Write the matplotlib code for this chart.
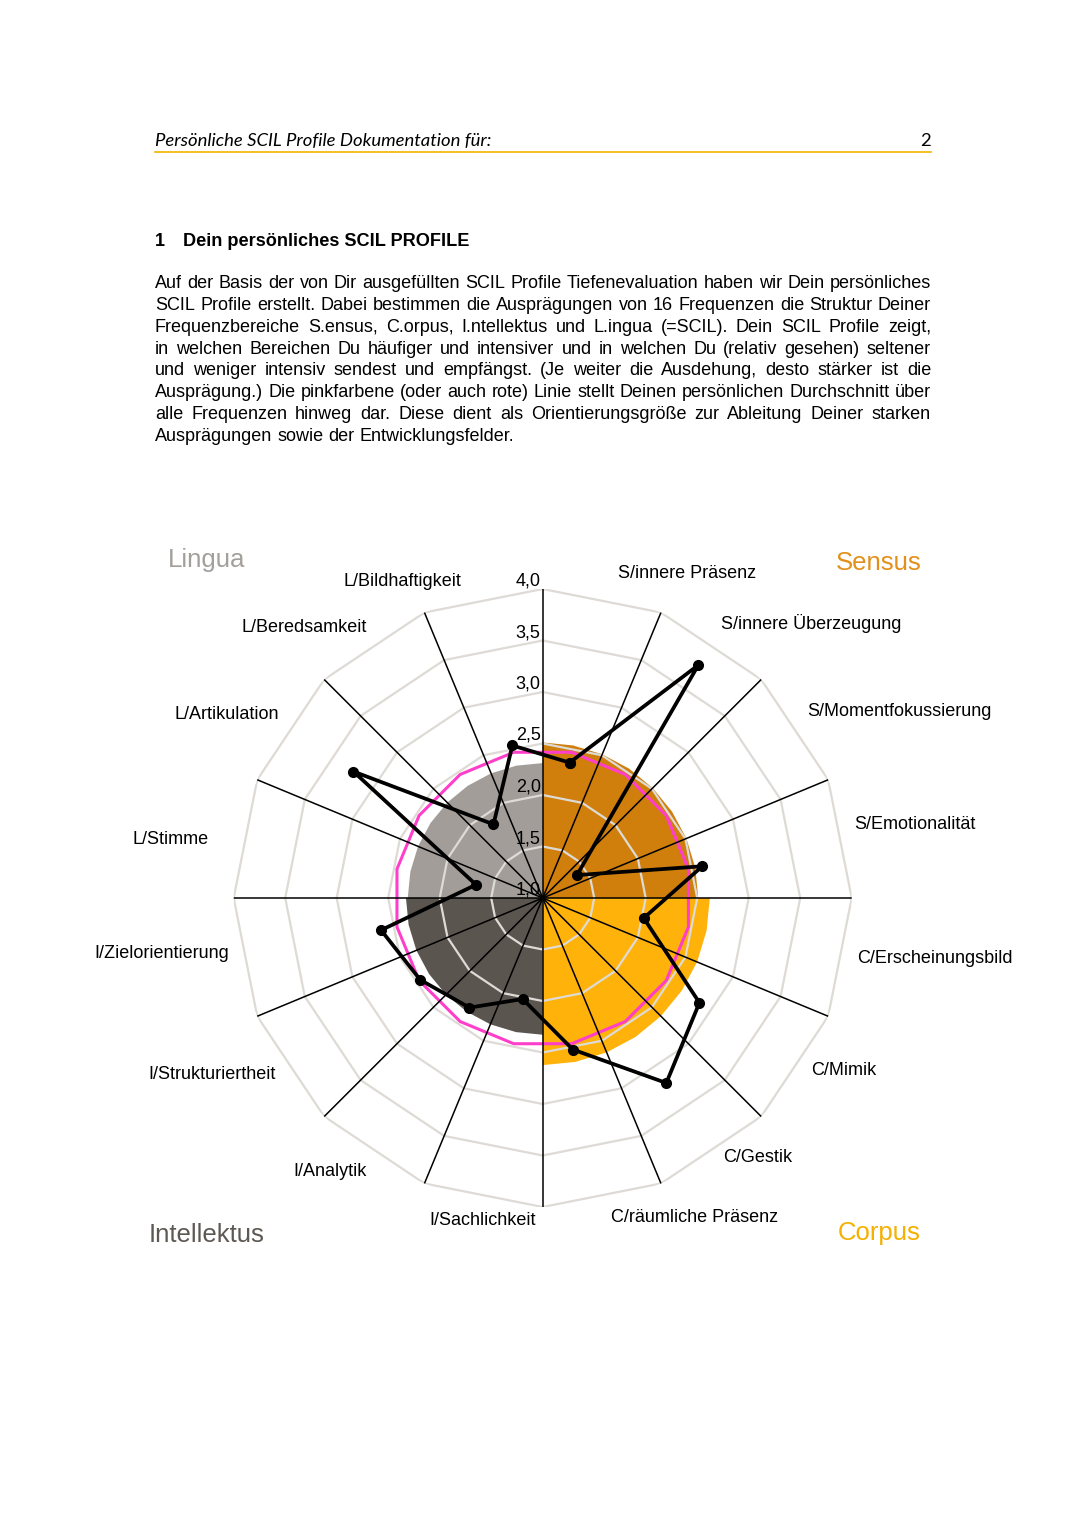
import matplotlib
matplotlib.use("Agg")
import matplotlib.pyplot as plt
import numpy as np

plt.rcParams['font.family'] = ['Liberation Sans', 'DejaVu Sans']

# Frequenzen im Uhrzeigersinn, beginnend rechts neben der 12-Uhr-Achse
labels = ['S/innere Präsenz', 'S/innere Überzeugung', 'S/Momentfokussierung', 'S/Emotionalität',
          'C/Erscheinungsbild', 'C/Mimik', 'C/Gestik', 'C/räumliche Präsenz',
          'I/Sachlichkeit', 'I/Analytik', 'I/Strukturiertheit', 'I/Zielorientierung',
          'L/Stimme', 'L/Artikulation', 'L/Beredsamkeit', 'L/Bildhaftigkeit']
values = [2.34, 3.72, 1.40, 2.58,
          2.00, 2.83, 3.16, 2.50,
          2.00, 2.28, 2.43, 2.60,
          1.66, 3.21, 1.86, 2.51]
groups = ['Sensus', 'Corpus', 'Intellektus', 'Lingua']
ring_values = [1.5, 2.0, 2.5, 3.0, 3.5, 4.0]
tick_values = [1.0, 1.5, 2.0, 2.5, 3.0, 3.5, 4.0]
tick_labels = ['1,0', '1,5', '2,0', '2,5', '3,0', '3,5', '4,0']

header_text = 'Persönliche SCIL Profile Dokumentation für:'
page_number = '2'
section_number = '1'
section_title = 'Dein persönliches SCIL PROFILE'
paragraph = [
    'Auf der Basis der von Dir ausgefüllten SCIL Profile Tiefenevaluation haben wir Dein persönliches',
    'SCIL Profile erstellt. Dabei bestimmen die Ausprägungen von 16 Frequenzen die Struktur Deiner',
    'Frequenzbereiche S.ensus, C.orpus, I.ntellektus und L.ingua (=SCIL). Dein SCIL Profile zeigt,',
    'in welchen Bereichen Du häufiger und intensiver und in welchen Du (relativ gesehen) seltener',
    'und weniger intensiv sendest und empfängst. (Je weiter die Ausdehung, desto stärker ist die',
    'Ausprägung.) Die pinkfarbene (oder auch rote) Linie stellt Deinen persönlichen Durchschnitt über',
    'alle Frequenzen hinweg dar. Diese dient als Orientierungsgröße zur Ableitung Deiner starken',
    'Ausprägungen sowie der Entwicklungsfelder.',
]

fill_colors = {'Sensus': '#d07f0c', 'Corpus': '#ffb20a', 'Intellektus': '#5b5550', 'Lingua': '#a29d99'}
title_colors = {'Sensus': '#e3901a', 'Corpus': '#f5b000', 'Intellektus': '#5e5853', 'Lingua': '#a39f9b'}
grid_color = '#dedad5'
pink = '#ff3fca'
# kleine Verschiebungen der Achsenbeschriftungen (Pixel, x nach rechts, y nach oben)
label_nudge = [(12, 5), (-3, 4), (-6, 6), (-8, 10),
               (-5, 3), (-2, 8), (0, 11), (5, 0),
               (3, -3), (5, -3), (4, 4), (6, 8),
               (-15, -5), (7, 3), (5, 0), (-18, -3)]

W, H = 1086, 1536
fig = plt.figure(figsize=(W / 100, H / 100), dpi=100)

# Seitenebene in Pixelkoordinaten
page = fig.add_axes([0, 0, 1, 1])
page.set_xlim(0, W)
page.set_ylim(H, 0)
page.axis('off')

left, right = 155, 931
page.text(left, 146, header_text, fontsize=13.3, style='italic', family=['Lato', 'DejaVu Sans'],
          ha='left', va='baseline')
page.text(right, 146, page_number, fontsize=13.3, family=['Lato', 'DejaVu Sans'], ha='right', va='baseline')
page.plot([left, right], [152, 152], color='#f5b400', lw=1.2)

page.text(left, 246, section_number, fontsize=13, weight='bold', ha='left', va='baseline')
page.text(183, 246, section_title, fontsize=13.1, weight='bold', ha='left', va='baseline')

# Blocksatz
renderer = fig.canvas.get_renderer()
probe1 = page.text(0, 0, 'x x', fontsize=13)
probe2 = page.text(0, 0, 'xx', fontsize=13)
space_w = probe1.get_window_extent(renderer).width - probe2.get_window_extent(renderer).width
probe1.remove()
probe2.remove()
base_y, line_gap = 288, 21.85
for i, line in enumerate(paragraph):
    words = line.split(' ')
    y = base_y + i * line_gap
    texts = [page.text(0, y, w, fontsize=13, ha='left', va='baseline') for w in words]
    widths = [t.get_window_extent(renderer).width for t in texts]
    if i < len(paragraph) - 1:
        gap = (right - left - sum(widths)) / (len(words) - 1)
    else:
        gap = space_w
    x = left
    for t, w in zip(texts, widths):
        t.set_x(x)
        x += w + gap

# Radar
cx, cy, R = 542.7, 898, 309
ax = fig.add_axes([(cx - R) / W, (H - cy - R) / H, 2 * R / W, 2 * R / H], projection='polar')
ax.set_theta_zero_location('N')
ax.set_theta_direction(-1)
ax.set_ylim(1, 4)
ax.axis('off')

n = len(labels)
step = 2 * np.pi / n
spokes = np.arange(n) * step
data_theta = spokes + step / 2

# Quadrantenflächen mit dem Mittelwert der jeweiligen Frequenzen
for g, name in enumerate(groups):
    m = np.mean(values[g * 4:(g + 1) * 4])
    th = np.linspace(g * np.pi / 2, (g + 1) * np.pi / 2, 9)
    ax.fill(np.r_[th[0], th, th[-1]], np.r_[1, np.full(len(th), m), 1],
            color=fill_colors[name], lw=0, zorder=1)

ring_theta = np.r_[spokes, spokes[0]]
for v in ring_values:
    ax.plot(ring_theta, np.full(len(ring_theta), v), color=grid_color, lw=1.6, zorder=2)

for t in spokes:
    ax.plot([t, t], [1, 4], color='black', lw=1.1, zorder=4)

for v, s in zip(tick_values, tick_labels):
    ax.annotate(s, xy=(0, v), xytext=(-2, 8), textcoords='offset pixels',
                ha='right', va='center', fontsize=13, zorder=3)

avg = np.mean(values)
ax.plot(np.r_[data_theta, data_theta[0]], np.full(n + 1, avg), color=pink, lw=2.2, zorder=3)

ax.plot(np.r_[data_theta, data_theta[0]], np.r_[values, values[0]], color='black', lw=2.7,
        marker='o', markersize=7, zorder=5, clip_on=False)

for t, lab, nud in zip(data_theta, labels, label_nudge):
    deg = np.degrees(t)
    if deg < 180:
        ha = 'left'
    elif deg < 200:
        ha = 'center'
    else:
        ha = 'right'
    ax.annotate(lab, xy=(t, 4.16), xytext=nud, textcoords='offset pixels',
                ha=ha, va='center', fontsize=13, annotation_clip=False)

# Bereichstitel
page.text(207, 560, 'Lingua', fontsize=18.5, color=title_colors['Lingua'], ha='center', va='center')
page.text(879, 563, 'Sensus', fontsize=18.5, color=title_colors['Sensus'], ha='center', va='center')
page.text(207, 1235, 'Intellektus', fontsize=18.5, color=title_colors['Intellektus'], ha='center', va='center')
page.text(879, 1233, 'Corpus', fontsize=18.5, color=title_colors['Corpus'], ha='center', va='center')

fig.savefig('out.png', dpi=100)
